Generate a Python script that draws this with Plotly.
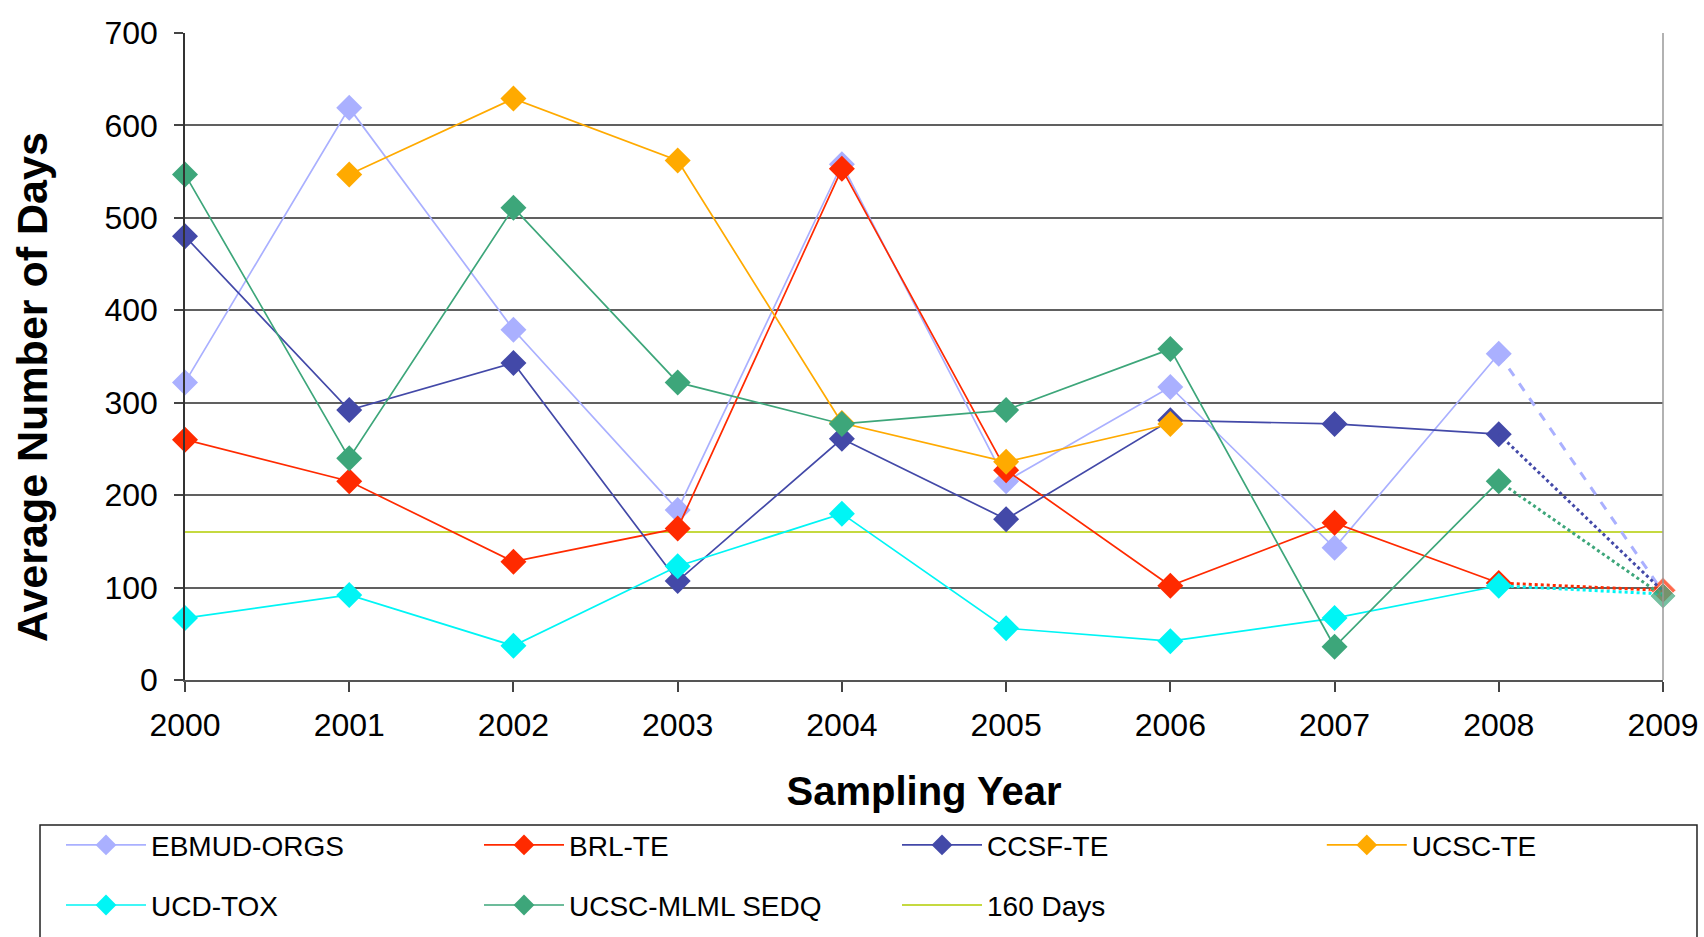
import plotly.graph_objects as go

# Sampling years and tick labels
years = [2000, 2001, 2002, 2003, 2004, 2005, 2006, 2007, 2008, 2009]
year_labels = ["2000", "2001", "2002", "2003", "2004", "2005", "2006", "2007", "2008", "2009"]

# Average number of days per lab (2009 values are projections)
ebmud_orgs = [322, 619, 379, 184, 558, 215, 317, 143, 353, 95]
brl_te = [260, 215, 128, 164, 553, 227, 102, 170, 105, 97]
ccsf_te = [480, 292, 343, 107, 261, 174, 281, 277, 266, 96]
ucsc_te = [None, 547, 629, 562, 278, 236, 277, None, None, None]
ucd_tox = [67, 92, 37, 123, 180, 56, 42, 67, 102, 93]
ucsc_mlml_sedq = [547, 240, 511, 322, 277, 292, 358, 36, 215, 91]
target_days = [160] * 10

y_ticks = [0, 100, 200, 300, 400, 500, 600, 700]

FONT = "Liberation Sans, Arial, sans-serif"
MARKER_SIZE = 20

series = [
    # name, values, colour, projection dash, show 2009 marker, legend id
    ("EBMUD-ORGS", ebmud_orgs, "#AAB0FF", "dash", False, "legend"),
    ("BRL-TE", brl_te, "#FF2A00", "dot", True, "legend"),
    ("CCSF-TE", ccsf_te, "#4349A8", "dot", False, "legend"),
    ("UCSC-TE", ucsc_te, "#FFAA00", None, False, "legend3"),
    ("UCD-TOX", ucd_tox, "#00F5F5", "dot", False, "legend2"),
    ("UCSC-MLML SEDQ", ucsc_mlml_sedq, "#3DA67A", "dot", True, "legend2"),
]

fig = go.Figure()

# 160-day reference line sits underneath the lab series
fig.add_trace(go.Scatter(
    x=years, y=target_days, name="160 Days", mode="lines",
    line=dict(color="#C5D940", width=2),
    legend="legend2", legendrank=3000, hoverinfo="skip",
))

for name, vals, color, dash, end_marker, leg in series:
    fig.add_trace(go.Scatter(
        x=years[:9], y=vals[:9], name=name, mode="lines+markers",
        line=dict(color=color, width=1.7),
        marker=dict(symbol="diamond", size=MARKER_SIZE, color=color),
        legend=leg, cliponaxis=False,
    ))
    if dash is not None:
        fig.add_trace(go.Scatter(
            x=years[8:], y=vals[8:], mode="lines+markers",
            line=dict(color=color, width=3, dash=dash),
            marker=dict(symbol="diamond", size=[0, MARKER_SIZE if end_marker else 0], color=color),
            showlegend=False, cliponaxis=False, hoverinfo="skip",
        ))

axis_font = dict(family=FONT, size=32, color="black")
legend_style = dict(
    orientation="h", xref="container", yref="container",
    x=0.0358, xanchor="left", yanchor="top",
    itemwidth=80, entrywidth=323, entrywidthmode="pixels",
    font=dict(family=FONT, size=28, color="black"),
    bgcolor="rgba(0,0,0,0)", borderwidth=0,
)

fig.update_layout(
    width=1704, height=937,
    margin=dict(l=185, r=41, t=33, b=257, autoexpand=False),
    paper_bgcolor="white", plot_bgcolor="white",
    font=dict(family=FONT, color="black"),
    xaxis=dict(
        range=[2000, 2009], tickvals=years, ticktext=year_labels,
        tickfont=axis_font, ticks="outside", ticklen=10, tickwidth=1.5,
        tickcolor="#444", showgrid=False, zeroline=False,
        showline=True, linecolor="#555", linewidth=2,
        ticklabelstandoff=6, automargin=False,
        title=dict(text="<b>Sampling Year</b>", font=dict(family=FONT, size=40), standoff=35),
    ),
    yaxis=dict(
        range=[0, 700], tickvals=y_ticks,
        tickfont=axis_font, ticks="outside", ticklen=9, tickwidth=1.5,
        tickcolor="#444", showgrid=True, gridcolor="#606060", gridwidth=2,
        zeroline=False, showline=True, linecolor="#333", linewidth=1.5,
        ticklabelstandoff=10, automargin=False,
    ),
    legend=dict(legend_style, y=0.1246),
    legend3=dict(legend_style, x=0.7757, y=0.1246, entrywidth=200),
    legend2=dict(legend_style, y=0.0605),
    annotations=[
        dict(text="<b>Average Number of Days</b>", textangle=-90,
             xref="paper", yref="paper", x=-0.1035, y=0.4529,
             xanchor="center", yanchor="middle", showarrow=False,
             font=dict(family=FONT, size=43, color="black")),
    ],
    shapes=[
        # right-hand frame edge of the plot area
        dict(type="line", xref="paper", yref="paper", x0=1, x1=1, y0=0, y1=1,
             line=dict(color="#999999", width=1.5)),
        # box around the legend
        dict(type="rect", xref="paper", yref="paper",
             x0=-0.0981, x1=1.0230, y0=-0.2241, y1=-0.43,
             line=dict(color="#222222", width=1.5), fillcolor="rgba(0,0,0,0)"),
    ],
    showlegend=True,
)

fig.write_html("out.html")
